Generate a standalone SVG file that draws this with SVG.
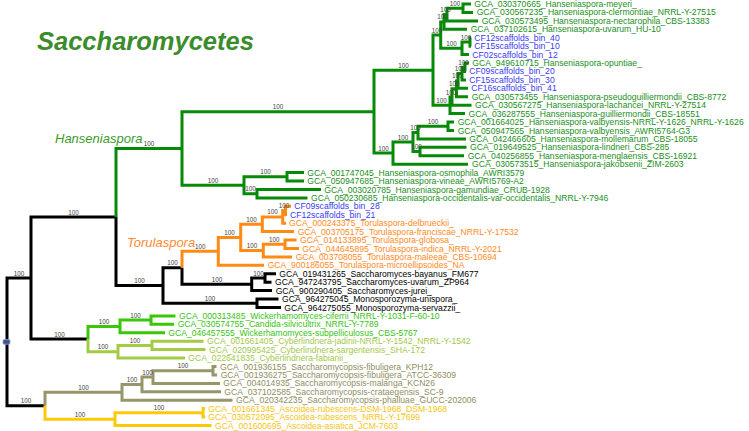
<svg xmlns="http://www.w3.org/2000/svg" width="749" height="431" viewBox="0 0 749 431">
<style>
.br{fill:none;stroke-width:3;stroke-linejoin:miter;stroke-linecap:butt}
.k{stroke:#000}.g{stroke:#078a07}.o{stroke:#ff8a14}.w{stroke:#3ac70a}.c{stroke:#a2cc44}.s{stroke:#97966a}.y{stroke:#ffc90a}
text{font-family:"Liberation Sans",Arial,sans-serif}
.t{font-size:8.6px}
.bs{font-size:6.3px;fill:#444;text-anchor:middle}
.tg{fill:#1a8f1a}.tb{fill:#3a3af0}.to{fill:#ff8a1e}.tk{fill:#000}.tw{fill:#38c412}.tc{fill:#a3c94a}.ts{fill:#8f8e63}.ty{fill:#f7c412}
</style>
<rect width="749" height="431" fill="#fff"/>
<text x="37" y="49.5" style="font-size:25.5px;font-weight:bold;font-style:italic;fill:#3b8c2c">Saccharomycetes</text>
<text x="55" y="142.5" style="font-size:13px;font-style:italic;fill:#3a9a2a">Hanseniaspora</text>
<text x="127" y="246.5" style="font-size:13px;font-style:italic;fill:#ff8a2e">Torulaspora</text>
<g id="branches">
<path class="br k" d="M7 341.9V278.05H31M7 341.9V405.75H45M31 278.05V217H116M31 278.05V339.1H88M116 217V285.55H163M163 285.55V267.8H182M163 285.55V303.3H257M182 267.8V284.3H251.7M251.7 284.3V278H265M251.7 284.3V290.6H272M265 278V273.8H276M265 278V282.2H271.5M257 303.3V299.1H278.5M257 303.3V307.5H281"/>
<path class="br g" d="M116 217V148.45H182M182 148.45V111.65H374M182 148.45V185.25H244M374 111.65V70.2H433M374 111.65V153.1H393M433 70.2V35.1H440.7M433 70.2V105.3H450M440.7 35.1V21.9H444M440.7 35.1V48.3H462M444 21.9V14.55H447M444 21.9V29.3H467M447 14.55V8.2H463M447 14.55V20.9H478M463 8.2V4H471M463 8.2V12.4H473M462 48.3V41.95H470M462 48.3V54.6H469M470 41.95V37.7H471M470 41.95V46.2H471M450 105.3V97H452M450 105.3V113.6H465M452 97V88.8H456.5M452 97V105.2H471.5M456.5 88.8V80.9H458M456.5 88.8V96.7H468M458 80.9V73.55H462M458 80.9V88.3H468M462 73.55V67.2H465M462 73.55V79.9H466M465 67.2V63H469M465 67.2V71.4H466M393 153.1V142.05H413M393 153.1V164.2H468M413 142.05V132.6H418M413 142.05V151.5H420M418 132.6V126.25H448M418 132.6V138.9H466M448 126.25V122H454M448 126.25V130.5H454M420 151.5V147.3H466.5M420 151.5V155.7H464M244 185.25V176.8H287M244 185.25V193.7H257M287 176.8V172.6H304M287 176.8V181H304M257 193.7V189.5H321M257 193.7V197.9H307.5"/>
<path class="br o" d="M182 267.8V251.35H218.3M218.3 251.35V237.4H240.7M218.3 251.35V265.3H264M240.7 237.4V224.25H262.3M240.7 237.4V250.6H263.3M262.3 224.25V216.9H282.7M262.3 224.25V231.6H294M282.7 216.9V210.55H285.5M282.7 216.9V223.2H286M285.5 210.55V206.3H291M285.5 210.55V214.8H287M263.3 250.6V244.25H285M263.3 250.6V256.9H292M285 244.25V240H296.5M285 244.25V248.5H299"/>
<path class="br w" d="M88 339.1V326.45H120M120 326.45V320.1H151M120 326.45V332.8H165M151 320.1V315.9H175.5M151 320.1V324.3H174"/>
<path class="br c" d="M88 339.1V351.75H118M118 351.75V345.4H152M118 351.75V358.1H185M152 345.4V341.2H203.5M152 345.4V349.6H205.5"/>
<path class="br s" d="M45 405.75V392.3H122M122 392.3V384.4H142M122 392.3V400.2H232.5M142 384.4V377.05H153M142 384.4V391.8H221M153 377.05V370.7H213M153 377.05V383.4H220M213 370.7V366.5H216.5M213 370.7V374.9H217"/>
<path class="br y" d="M45 405.75V419.2H115M115 419.2V412.85H203M115 419.2V425.5H211.5M203 412.85V408.6H205M203 412.85V417.1H205"/>
</g>
<g id="root"><rect x="3" y="339.6" width="7" height="4.6" rx="1" fill="#3a5590" stroke="#9aa8c8" stroke-width="0.8"/></g>
<g id="n-A"><text class="bs" x="19" y="275.5">100</text></g>
<g id="n-Z"><text class="bs" x="26" y="403.2">100</text></g>
<g id="n-B"><text class="bs" x="73.5" y="214.5">100</text></g>
<g id="n-Wn"><text class="bs" x="59.5" y="336.6">100</text></g>
<g id="n-C"><text class="bs" x="149" y="146">100</text></g>
<g id="n-G"><text class="bs" x="139.5" y="283">100</text></g>
<g id="n-D"><text class="bs" x="278" y="109.2">100</text></g>
<g id="n-O"><text class="bs" x="213" y="182.8">100</text></g>
<g id="n-D1"><text class="bs" x="403.5" y="67.7">100</text></g>
<g id="n-D2"><text class="bs" x="383.5" y="150.6">100</text></g>
<g id="n-N"><text class="bs" x="436.9" y="32.6">100</text></g>
<g id="n-R"><text class="bs" x="441.5" y="102.8">100</text></g>
<g id="n-Q"><text class="bs" x="442.4" y="19.4">100</text></g>
<g id="n-P2"><text class="bs" x="451.4" y="45.8">100</text></g>
<g id="n-M2"><text class="bs" x="445.5" y="12">100</text></g>
<g id="n-M1"><text class="bs" x="455" y="5.7">100</text></g>
<g id="n-P1"><text class="bs" x="466" y="39.5">100</text></g>
<g id="n-R1"><text class="bs" x="451" y="94.5">100</text></g>
<g id="n-R2"><text class="bs" x="454.3" y="86.3">100</text></g>
<g id="n-R3"><text class="bs" x="457.3" y="78.4">100</text></g>
<g id="n-R4p"><text class="bs" x="460" y="71">100</text></g>
<g id="n-R4"><text class="bs" x="463.5" y="64.7">100</text></g>
<g id="n-E"><text class="bs" x="403" y="139.5">100</text></g>
<g id="n-E1"><text class="bs" x="415.5" y="130.1">100</text></g>
<g id="n-V"><text class="bs" x="433" y="123.7">100</text></g>
<g id="n-E2"><text class="bs" x="416.5" y="149">100</text></g>
<g id="n-O1"><text class="bs" x="265.5" y="174.3">100</text></g>
<g id="n-O2"><text class="bs" x="250.5" y="191.2">100</text></g>
<g id="n-H"><text class="bs" x="172.5" y="265.3">100</text></g>
<g id="n-Mo"><text class="bs" x="210" y="300.8">100</text></g>
<g id="n-T0"><text class="bs" x="200.2" y="248.9">100</text></g>
<g id="n-Sa"><text class="bs" x="216.9" y="281.8">100</text></g>
<g id="n-T1"><text class="bs" x="229.5" y="234.9">100</text></g>
<g id="n-T2"><text class="bs" x="251.5" y="221.7">100</text></g>
<g id="n-T3"><text class="bs" x="252" y="248.1">100</text></g>
<g id="n-T4"><text class="bs" x="272.5" y="214.4">100</text></g>
<g id="n-T5"><text class="bs" x="284.1" y="208">100</text></g>
<g id="n-T6"><text class="bs" x="274.2" y="241.7">100</text></g>
<g id="n-Sa1"><text class="bs" x="258.4" y="275.5">100</text></g>
<g id="n-W1"><text class="bs" x="104" y="324">100</text></g>
<g id="n-Cy1"><text class="bs" x="103" y="349.2">100</text></g>
<g id="n-W2"><text class="bs" x="135.5" y="317.6">100</text></g>
<g id="n-Cy2"><text class="bs" x="135" y="342.9">100</text></g>
<g id="n-S1"><text class="bs" x="83.5" y="389.8">100</text></g>
<g id="n-A1"><text class="bs" x="80" y="416.7">100</text></g>
<g id="n-S2"><text class="bs" x="132" y="381.9">100</text></g>
<g id="n-S3"><text class="bs" x="147.5" y="374.5">100</text></g>
<g id="n-S4"><text class="bs" x="183" y="368.2">100</text></g>
<g id="n-A2"><text class="bs" x="159" y="410.3">100</text></g>
<g id="tip-1"><text class="t tg" x="474.3" y="7">GCA_030370665_Hanseniaspora-meyeri_</text></g>
<g id="tip-2"><text class="t tg" x="476.7" y="15.4">GCA_030567235_Hanseniaspora-clermontiae_NRRL-Y-27515</text></g>
<g id="tip-3"><text class="t tg" x="481.7" y="23.9">GCA_030573495_Hanseniaspora-nectarophila_CBS-13383</text></g>
<g id="tip-4"><text class="t tg" x="470.7" y="32.3">GCA_037102615_Hanseniaspora-uvarum_HU-10</text></g>
<g id="tip-5"><text class="t tb" x="474.3" y="40.7">CF12scaffolds_bin_40</text></g>
<g id="tip-6"><text class="t tb" x="474.3" y="49.2">CF15scaffolds_bin_10</text></g>
<g id="tip-7"><text class="t tb" x="472.3" y="57.6">CF02scaffolds_bin_12</text></g>
<g id="tip-8"><text class="t tg" x="472.3" y="66">GCA_949610715_Hanseniaspora-opuntiae_</text></g>
<g id="tip-9"><text class="t tb" x="469.3" y="74.4">CF09scaffolds_bin_20</text></g>
<g id="tip-10"><text class="t tb" x="469.3" y="82.9">CF15scaffolds_bin_30</text></g>
<g id="tip-11"><text class="t tb" x="471.3" y="91.3">CF16scaffolds_bin_41</text></g>
<g id="tip-12"><text class="t tg" x="471.7" y="99.7">GCA_030573455_Hanseniaspora-pseudoguilliermondii_CBS-8772</text></g>
<g id="tip-13"><text class="t tg" x="475" y="108.2">GCA_030567275_Hanseniaspora-lachancei_NRRL-Y-27514</text></g>
<g id="tip-14"><text class="t tg" x="468.5" y="116.6">GCA_036287555_Hanseniaspora-guilliermondii_CBS-18551</text></g>
<g id="tip-15"><text class="t tg" x="457.7" y="125">GCA_001664025_Hanseniaspora-valbyensis-NRRL-Y-1626_NRRL-Y-1626</text></g>
<g id="tip-16"><text class="t tg" x="457.7" y="133.5">GCA_050947565_Hanseniaspora-valbyensis_AWRI5764-G3</text></g>
<g id="tip-17"><text class="t tg" x="469.3" y="141.9">GCA_042466605_Hanseniaspora-mollemarum_CBS-18055</text></g>
<g id="tip-18"><text class="t tg" x="470" y="150.3">GCA_019649525_Hanseniaspora-lindneri_CBS-285</text></g>
<g id="tip-19"><text class="t tg" x="467.7" y="158.7">GCA_040256855_Hanseniaspora-menglaensis_CBS-16921</text></g>
<g id="tip-20"><text class="t tg" x="472" y="167.2">GCA_030573515_Hanseniaspora-jakobsenii_ZIM-2603</text></g>
<g id="tip-21"><text class="t tg" x="307.3" y="175.6">GCA_001747045_Hanseniaspora-osmophila_AWRI3579</text></g>
<g id="tip-22"><text class="t tg" x="307.3" y="184">GCA_050947685_Hanseniaspora-vineae_AWRI5769-A2</text></g>
<g id="tip-23"><text class="t tg" x="324.3" y="192.5">GCA_003020785_Hanseniaspora-gamundiae_CRUB-1928</text></g>
<g id="tip-24"><text class="t tg" x="311" y="200.9">GCA_050230685_Hanseniaspora-occidentalis-var-occidentalis_NRRL-Y-7946</text></g>
<g id="tip-25"><text class="t tb" x="294.3" y="209.3">CF09scaffolds_bin_28</text></g>
<g id="tip-26"><text class="t tb" x="290" y="217.8">CF12scaffolds_bin_21</text></g>
<g id="tip-27"><text class="t to" x="289" y="226.2">GCA_000243375_Torulaspora-delbrueckii_</text></g>
<g id="tip-28"><text class="t to" x="297.7" y="234.6">GCA_003705175_Torulaspora-franciscae_NRRL-Y-17532</text></g>
<g id="tip-29"><text class="t to" x="300" y="243">GCA_014133895_Torulaspora-globosa_</text></g>
<g id="tip-30"><text class="t to" x="302.3" y="251.5">GCA_044645895_Torulaspora-indica_NRRL-Y-2021</text></g>
<g id="tip-31"><text class="t to" x="295.7" y="259.9">GCA_003708055_Torulaspora-maleeae_CBS-10694</text></g>
<g id="tip-32"><text class="t to" x="267.7" y="268.3">GCA_900186055_Torulaspora-microellipsoides_NA</text></g>
<g id="tip-33"><text class="t tk" x="279.3" y="276.8">GCA_019431265_Saccharomyces-bayanus_FM677</text></g>
<g id="tip-34"><text class="t tk" x="275" y="285.2">GCA_947243795_Saccharomyces-uvarum_ZP964</text></g>
<g id="tip-35"><text class="t tk" x="275.7" y="293.6">GCA_900290405_Saccharomyces-jurei_</text></g>
<g id="tip-36"><text class="t tk" x="282" y="302.1">GCA_964275045_Monosporozyma-unispora_</text></g>
<g id="tip-37"><text class="t tk" x="284.3" y="310.5">GCA_964275055_Monosporozyma-servazzii_</text></g>
<g id="tip-38"><text class="t tw" x="179" y="318.9">GCA_000313485_Wickerhamomyces-ciferrii_NRRL-Y-1031-F-60-10</text></g>
<g id="tip-39"><text class="t tw" x="177.7" y="327.3">GCA_030574755_Candida-silvicultrix_NRRL-Y-7789</text></g>
<g id="tip-40"><text class="t tw" x="168.3" y="335.8">GCA_046457555_Wickerhamomyces-subpelliculosus_CBS-5767</text></g>
<g id="tip-41"><text class="t tc" x="207" y="344.2">GCA_001661405_Cyberlindnera-jadinii-NRRL-Y-1542_NRRL-Y-1542</text></g>
<g id="tip-42"><text class="t tc" x="209" y="352.6">GCA_020995425_Cyberlindnera-sargentensis_SHA-172</text></g>
<g id="tip-43"><text class="t tc" x="188.3" y="361.1">GCA_022641835_Cyberlindnera-fabianii_</text></g>
<g id="tip-44"><text class="t ts" x="220" y="369.5">GCA_001936155_Saccharomycopsis-fibuligera_KPH12</text></g>
<g id="tip-45"><text class="t ts" x="220.7" y="377.9">GCA_001936275_Saccharomycopsis-fibuligera_ATCC-36309</text></g>
<g id="tip-46"><text class="t ts" x="223.3" y="386.4">GCA_004014935_Saccharomycopsis-malanga_KCN26</text></g>
<g id="tip-47"><text class="t ts" x="224.3" y="394.8">GCA_037102585_Saccharomycopsis-crataegensis_SC-9</text></g>
<g id="tip-48"><text class="t ts" x="236" y="403.2">GCA_020342235_Saccharomycopsis-phalluae_GUCC-202006</text></g>
<g id="tip-49"><text class="t ty" x="208.3" y="411.6">GCA_001661345_Ascoidea-rubescens-DSM-1968_DSM-1968</text></g>
<g id="tip-50"><text class="t ty" x="208.3" y="420.1">GCA_030572095_Ascoidea-rubescens_NRRL-Y-17699</text></g>
<g id="tip-51"><text class="t ty" x="215" y="428.5">GCA_001600695_Ascoidea-asiatica_JCM-7603</text></g>
</svg>
